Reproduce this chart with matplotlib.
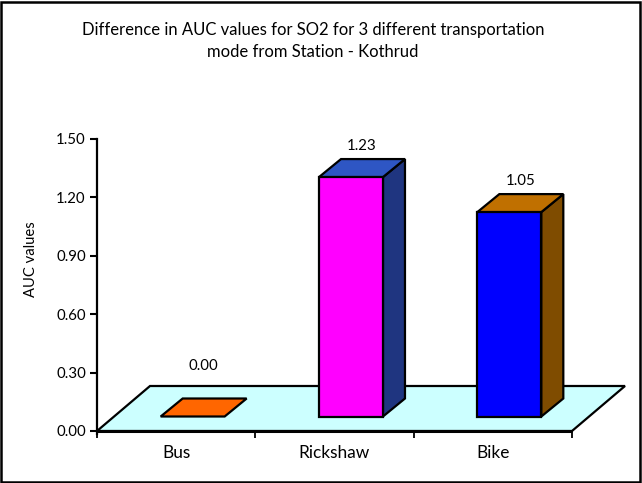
import matplotlib
matplotlib.use("Agg")
import matplotlib.pyplot as plt
from matplotlib.patches import Polygon, Rectangle
from matplotlib.transforms import IdentityTransform

categories = ["Bus", "Rickshaw", "Bike"]
values = [0.00, 1.23, 1.05]
value_labels = ["0.00", "1.23", "1.05"]
y_ticks = [0.0, 0.3, 0.6, 0.9, 1.2, 1.5]
y_tick_labels = ["0.00", "0.30", "0.60", "0.90", "1.20", "1.50"]

front_colors = ["#FF6600", "#FF00FF", "#0000FF"]
top_colors = ["#FF6600", "#2E56C4", "#C07000"]
side_colors = ["#CC5200", "#1F3580", "#7F4C00"]

title = "Difference in AUC values for SO2 for 3 different transportation\nmode from Station - Kothrud"
y_label = "AUC values"

FONT = "Lato"
W, H, DPI = 642, 483, 100
fig = plt.figure(figsize=(W / DPI, H / DPI), dpi=DPI)
fig.patch.set_facecolor("white")

ax = fig.add_axes([97 / W, 52 / H, 475 / W, 292 / H])
ax.set_xlim(-0.5, 2.5)
ax.set_ylim(0, 1.5)
ax.patch.set_visible(False)
for s in ["top", "right", "bottom"]:
    ax.spines[s].set_visible(False)
ax.spines["left"].set_linewidth(1.6)
ax.spines["left"].set_bounds(-0.015, 1.5)
ax.set_yticks(y_ticks)
ax.set_yticklabels(y_tick_labels, fontfamily=FONT, fontsize=10.8)
ax.tick_params(axis="y", length=5, width=1.5, pad=3)
ax.set_xticks([-0.5, 0.5, 1.5, 2.5], minor=False)
ax.set_xticklabels([])
ax.tick_params(axis="x", length=5, width=1.3, direction="out")
ax.set_xticks(range(len(categories)), minor=True)
ax.set_xticklabels(categories, minor=True, fontfamily=FONT, fontsize=12.4)
ax.tick_params(axis="x", which="minor", length=0, pad=10)
ax.set_ylabel(y_label, fontfamily=FONT, fontsize=10.6)
ax.yaxis.set_label_coords(-0.125, 0.59)

ident = IdentityTransform()

# depth offsets in pixels (x right, y up)
FLOOR_D = (53.0, 45.0)
FRONT_D = (16.5, 14.5)
BACK_D = (38.5, 32.5)
BAR_W = 0.404


def pt(x, y, d):
    px, py = ax.transData.transform((x, y))
    return (px + d[0], py + d[1])


def face(points, color, z):
    ax.add_patch(Polygon(points, closed=True, facecolor=color, edgecolor="black",
                         linewidth=1.6, joinstyle="miter", transform=ident,
                         clip_on=False, zorder=z))


# floor
face([pt(-0.5, 0, (0, 0)), pt(2.5, 0, (0, 0)), pt(2.5, 0, FLOOR_D), pt(-0.5, 0, FLOOR_D)],
     "#CCFFFF", 1)
ax.plot([-0.5, 2.5], [0, 0], color="black", lw=2.2, clip_on=False, zorder=2,
        solid_capstyle="butt")

floor_back_y = pt(0, 0, FLOOR_D)[1]

for i, (v, lab) in enumerate(zip(values, value_labels)):
    x0, x1 = i - BAR_W / 2, i + BAR_W / 2
    if v > 0:
        face([pt(x1, 0, FRONT_D), pt(x1, 0, BACK_D), pt(x1, v, BACK_D), pt(x1, v, FRONT_D)],
             side_colors[i], 3)
    face([pt(x0, v, FRONT_D), pt(x1, v, FRONT_D), pt(x1, v, BACK_D), pt(x0, v, BACK_D)],
         top_colors[i], 4)
    if v > 0:
        face([pt(x0, 0, FRONT_D), pt(x1, 0, FRONT_D), pt(x1, v, FRONT_D), pt(x0, v, FRONT_D)],
             front_colors[i], 5)
    mid = ((FRONT_D[0] + BACK_D[0]) / 2, (FRONT_D[1] + BACK_D[1]) / 2)
    lx, ly = pt(i, v, mid)
    ly = max(pt(i, v, FRONT_D)[1] + 31, floor_back_y + 20)
    ax.text(lx, ly, lab, transform=ident, ha="center", va="center",
            fontfamily=FONT, fontsize=10.8, zorder=6)

fig.text(313 / W, 1 - 41 / H, title, ha="center", va="center", fontfamily=FONT,
         fontsize=12, linespacing=1.45)

fig.add_artist(Rectangle((1 / W, 1 / H), 1 - 3 / W, 1 - 3 / H, transform=fig.transFigure,
                         fill=False, edgecolor="black", linewidth=1.8))

fig.savefig("out.png", dpi=DPI)
